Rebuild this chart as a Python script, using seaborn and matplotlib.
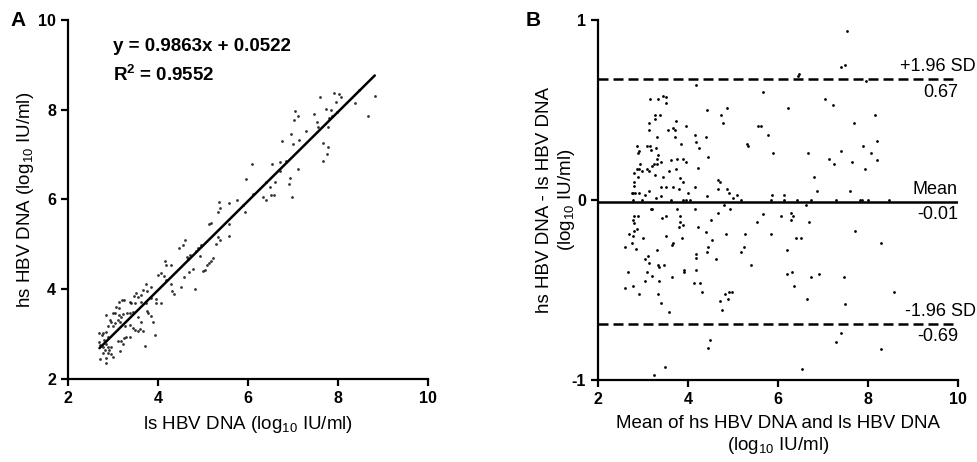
import matplotlib
matplotlib.use("Agg")
import matplotlib.pyplot as plt
import seaborn as sns
import pandas as pd

# --- DATA ---
# panel A: ls HBV DNA (x) vs hs HBV DNA (y), log10 IU/ml
ls_dna = [
    4.00, 4.07, 4.13, 4.30, 4.31, 4.36, 4.52, 4.57, 4.69, 4.83, 4.19, 3.74, 3.67, 3.76, 3.85,
    3.52, 3.63, 3.46, 3.56, 3.37, 3.41, 3.50, 3.63, 3.74, 3.85, 3.95, 3.96, 4.07, 3.13, 3.21,
    3.24, 3.07, 3.13, 3.00, 3.04, 2.85, 3.13, 3.18, 3.22, 3.32, 3.38, 3.45, 3.56, 3.76, 3.79,
    3.85, 3.63, 3.89, 2.93, 2.96, 3.04, 3.11, 3.16, 2.89, 3.00, 3.26, 3.37, 3.44, 3.48, 3.56,
    3.59, 3.67, 3.94, 2.78, 2.70, 2.75, 2.85, 2.89, 3.11, 3.18, 3.24, 3.30, 3.37, 3.22, 2.70,
    2.72, 2.78, 2.81, 2.85, 2.89, 2.95, 2.83, 2.92, 2.78, 2.90, 2.95, 3.15, 3.72, 2.72, 2.85,
    3.00, 2.85,
    5.36, 5.59, 5.76, 5.34, 5.38, 5.14, 5.18, 5.59, 5.34, 5.38, 5.58, 5.30, 4.60, 4.55, 4.47,
    4.96, 4.90, 4.84, 4.71, 4.64, 4.67, 4.93, 5.23, 5.19, 5.14, 5.08, 5.04, 5.01, 4.79, 4.16,
    4.19, 4.30,
    7.61, 7.91, 8.03, 8.08, 7.96, 8.82, 8.47, 8.39, 8.67, 7.73, 7.84, 7.99, 7.81, 7.86, 7.79,
    7.47, 7.53, 7.56, 7.05, 7.12, 7.03, 7.28, 6.96, 6.75, 7.01, 7.14, 7.67, 7.77, 7.76, 7.66,
    6.10, 6.53, 6.72, 6.84, 6.71, 7.11, 5.96, 6.41, 6.60, 6.50, 6.93, 6.91, 6.12, 6.33, 6.40,
    6.51, 6.59, 6.99, 5.90, 5.93,
]
hs_dna = [
    4.32, 4.36, 4.30, 4.12, 3.97, 3.89, 4.04, 4.28, 4.39, 4.00, 4.21, 4.12, 3.98, 3.97, 4.04,
    3.92, 3.87, 3.85, 3.82, 3.72, 3.69, 3.69, 3.72, 3.70, 3.80, 3.78, 3.70, 3.69, 3.71, 3.75,
    3.76, 3.60, 3.58, 3.48, 3.46, 3.43, 3.43, 3.39, 3.44, 3.48, 3.46, 3.49, 3.39, 3.52, 3.48,
    3.40, 3.26, 3.26, 3.31, 3.28, 3.24, 3.31, 3.26, 3.18, 3.17, 3.17, 3.20, 3.13, 3.09, 3.07,
    3.11, 3.08, 2.99, 3.03, 3.02, 2.98, 3.05, 2.94, 2.85, 2.85, 2.91, 2.94, 2.94, 2.79, 2.83,
    2.76, 2.72, 2.87, 2.79, 2.72, 2.71, 2.65, 2.65, 2.57, 2.59, 2.55, 2.62, 2.74, 2.44, 2.46,
    2.50, 2.35,
    5.94, 5.93, 5.99, 5.73, 5.80, 5.45, 5.47, 5.45, 5.16, 5.10, 5.19, 5.01, 5.10, 4.98, 4.93,
    4.99, 4.91, 4.86, 4.76, 4.71, 4.67, 4.73, 4.70, 4.64, 4.58, 4.54, 4.43, 4.41, 4.44, 4.64,
    4.54, 4.54,
    8.28, 8.37, 8.35, 8.29, 8.18, 8.31, 8.44, 8.14, 7.85, 8.02, 7.99, 7.96, 7.81, 7.86, 7.62,
    7.90, 7.72, 7.62, 7.98, 7.86, 7.77, 7.53, 7.47, 7.30, 7.23, 7.33, 7.25, 7.18, 7.01, 6.86,
    6.79, 6.78, 6.84, 6.86, 6.64, 6.69, 6.46, 6.40, 6.40, 6.27, 6.49, 6.34, 6.12, 6.05, 5.99,
    6.10, 6.10, 6.05, 5.88, 5.73,
]
fit_text = "y = 0.9863x + 0.0522"
r2_text = "R$^2$ = 0.9552"

# panel B: Bland-Altman, mean of both vs difference (hs - ls)
mean_dna = [
    4.17, 3.16, 3.33, 3.44, 3.50, 3.51, 4.42, 3.27, 3.37, 3.26, 3.14, 3.13, 3.73, 3.66, 3.70,
    3.56, 3.95, 3.30, 3.72, 4.16, 4.39, 4.18, 3.84, 4.25, 2.87, 2.90, 2.88, 3.08, 3.15, 3.18,
    3.28, 3.33, 3.30, 4.44, 2.93, 2.86, 2.90, 2.98, 2.81, 2.89, 3.09, 3.13, 3.20, 3.24, 3.31,
    3.40, 3.63, 3.76, 3.89, 3.96, 3.73, 3.57, 3.27, 3.44, 4.22, 3.82, 3.88, 2.79, 2.81, 2.76,
    2.78, 2.83, 2.90, 3.05, 3.14, 3.41, 3.50, 3.66, 3.79, 4.00, 4.16, 3.39, 3.29, 2.78, 2.98,
    3.63, 3.89, 3.96, 4.04, 4.43,
    3.17, 3.20, 3.75, 4.16, 2.81, 2.89, 2.78, 2.79, 3.42, 3.52, 3.82, 3.83, 4.50, 3.88, 3.81,
    4.22, 2.86, 2.81, 2.69, 2.78, 3.01, 3.52, 3.87, 4.40, 4.53, 3.67, 3.64, 2.61, 2.75, 2.84,
    4.44, 4.43, 3.30, 3.11, 3.04, 4.18, 4.18, 3.13, 3.33, 3.36, 3.47, 2.67, 3.09, 3.19, 3.64,
    3.90, 3.92, 4.17, 3.04, 3.36, 4.13, 4.27, 2.61, 2.78, 2.90, 3.34, 4.30, 3.40, 3.58, 4.49,
    4.44, 3.49, 3.24,
    7.53, 7.41, 7.49, 6.47, 6.45, 7.95, 5.67, 4.87, 4.73, 4.78, 6.22, 7.04, 7.23, 8.15, 7.70,
    5.56, 5.63, 5.78, 8.21, 5.30, 5.34, 5.89, 6.67, 7.41, 7.88, 8.07, 7.13, 7.24, 7.64, 8.20,
    7.94, 6.79, 4.66, 4.71, 4.66, 4.86, 4.91, 4.99, 5.09, 5.18, 5.87, 6.13, 5.84, 6.13, 6.42,
    6.73, 6.87, 7.30, 7.60, 7.82, 7.86, 7.99, 8.47,
    4.79, 4.93, 4.67, 6.63, 5.67, 5.54, 6.07, 6.29, 6.33, 6.30, 6.69, 4.85, 5.27, 5.84, 6.39,
    6.52, 7.72, 5.25, 5.18, 6.19, 8.28, 4.62, 5.40, 6.21, 6.32, 6.74, 6.92, 7.47, 6.36, 4.82,
    4.91, 4.97, 4.72, 4.88, 4.75, 6.64, 7.48, 8.58, 7.41, 7.28, 8.28, 6.53,
]
diff_dna = [
    0.64, 0.56, 0.56, 0.58, 0.57, 0.54, 0.50, 0.47, 0.47, 0.45, 0.43, 0.39, 0.44, 0.40, 0.39,
    0.39, 0.41, 0.35, 0.35, 0.36, 0.35, 0.32, 0.31, 0.29, 0.30, 0.27, 0.26, 0.30, 0.30, 0.28,
    0.29, 0.25, 0.23, 0.24, 0.20, 0.17, 0.17, 0.16, 0.15, 0.13, 0.17, 0.16, 0.19, 0.20, 0.20,
    0.21, 0.22, 0.23, 0.23, 0.21, 0.17, 0.16, 0.14, 0.13, 0.18, 0.12, 0.10, 0.10, 0.08, 0.04,
    0.04, 0.04, 0.04, 0.03, 0.05, 0.07, 0.07, 0.07, 0.06, 0.04, 0.07, 0.02, 0.01, 0.00, 0.00,
    0.00, 0.00, 0.00, 0.00, 0.02,
    -0.05, -0.05, -0.05, -0.05, -0.09, -0.09, -0.11, -0.13, -0.10, -0.09, -0.09, -0.12, -0.11,
    -0.14, -0.15, -0.15, -0.16, -0.17, -0.19, -0.20, -0.21, -0.20, -0.21, -0.18, -0.22, -0.24,
    -0.25, -0.26, -0.24, -0.27, -0.26, -0.29, -0.28, -0.31, -0.33, -0.30, -0.32, -0.35, -0.36,
    -0.37, -0.36, -0.40, -0.40, -0.42, -0.43, -0.39, -0.40, -0.39, -0.45, -0.45, -0.46, -0.46,
    -0.49, -0.48, -0.52, -0.52, -0.51, -0.57, -0.62, -0.78, -0.82, -0.93, -0.97,
    0.94, 0.74, 0.75, 0.70, 0.69, 0.66, 0.60, 0.51, 0.47, 0.43, 0.51, 0.56, 0.53, 0.47, 0.43,
    0.41, 0.41, 0.36, 0.33, 0.31, 0.30, 0.26, 0.26, 0.27, 0.30, 0.26, 0.23, 0.20, 0.21, 0.22,
    0.17, 0.13, 0.11, 0.10, 0.06, 0.06, 0.04, 0.01, 0.03, 0.00, 0.03, 0.03, 0.00, 0.00, 0.00,
    0.00, 0.05, 0.00, 0.05, 0.00, 0.00, 0.00, 0.00,
    -0.03, -0.05, -0.07, -0.03, -0.08, -0.12, -0.09, -0.07, -0.09, -0.11, -0.12, -0.19, -0.19,
    -0.19, -0.21, -0.21, -0.17, -0.26, -0.29, -0.28, -0.24, -0.33, -0.36, -0.41, -0.40, -0.43,
    -0.41, -0.43, -0.48, -0.52, -0.51, -0.51, -0.56, -0.55, -0.61, -0.55, -0.58, -0.51, -0.74,
    -0.79, -0.83, -0.94,
]
bias = -0.01
upper_loa = 0.67
lower_loa = -0.69

# --- STYLE ---
sns.set_style("ticks")
plt.rcParams['font.family'] = ['Liberation Sans', 'DejaVu Sans']
plt.rcParams['mathtext.default'] = 'regular'
plt.rcParams['axes.unicode_minus'] = False
for key in ['text.color', 'axes.labelcolor', 'axes.edgecolor', 'xtick.color', 'ytick.color']:
    plt.rcParams[key] = 'black'
lw = 1.6

fig = plt.figure(figsize=(9.78, 4.62), dpi=100)
ax_a = fig.add_axes([0.0695, 0.1797, 0.368, 0.777])
ax_b = fig.add_axes([0.6115, 0.1775, 0.368, 0.779])


def style_axis(ax):
    sns.despine(ax=ax)
    for side in ['left', 'bottom']:
        ax.spines[side].set_linewidth(lw)
    ax.tick_params(width=lw, length=5, labelsize=11.5, direction='out')
    for lab in ax.get_xticklabels() + ax.get_yticklabels():
        lab.set_fontweight('bold')


# --- PANEL A: correlation ---
df_a = pd.DataFrame({'ls': ls_dna, 'hs': hs_dna})
sns.regplot(data=df_a, x='ls', y='hs', ax=ax_a, ci=None, color='black',
            scatter_kws=dict(s=4, linewidths=0), line_kws=dict(lw=1.8))
ax_a.set_xlim(2, 10)
ax_a.set_ylim(2, 10)
ax_a.set_xticks([2, 4, 6, 8, 10])
ax_a.set_yticks([2, 4, 6, 8, 10])
ax_a.set_xlabel("ls HBV DNA (log$_{10}$ IU/ml)", fontsize=13.5, labelpad=6)
ax_a.set_ylabel("hs HBV DNA (log$_{10}$ IU/ml)", fontsize=13.5, labelpad=2)
style_axis(ax_a)
ax_a.text(3.0, 9.4, fit_text, fontsize=13.5, fontweight='bold', va='center')
ax_a.text(3.0, 8.78, r2_text, fontsize=13.5, fontweight='bold', va='center')
ax_a.text(-0.16, 1.0, "A", transform=ax_a.transAxes, fontsize=15,
          fontweight='bold', va='center')

# --- PANEL B: Bland-Altman ---
df_b = pd.DataFrame({'mean': mean_dna, 'diff': diff_dna})
sns.scatterplot(data=df_b, x='mean', y='diff', ax=ax_b, color='black',
                s=4, linewidth=0)
ax_b.axhline(bias, color='black', lw=1.8)
ax_b.axhline(upper_loa, color='black', lw=1.8, ls=(0, (4, 2)))
ax_b.axhline(lower_loa, color='black', lw=1.8, ls=(0, (4, 2)))
ax_b.set_xlim(2, 10)
ax_b.set_ylim(-1, 1)
ax_b.set_xticks([2, 4, 6, 8, 10])
ax_b.set_yticks([-1, 0, 1])
ax_b.set_xlabel("Mean of hs HBV DNA and ls HBV DNA\n(log$_{10}$ IU/ml)",
                fontsize=13.5, labelpad=6)
ax_b.set_ylabel("hs HBV DNA - ls HBV DNA\n(log$_{10}$ IU/ml)", fontsize=13.5,
                labelpad=-4)
style_axis(ax_b)

labels = [(upper_loa, "+1.96 SD", f"{upper_loa:.2f}"),
          (bias, "Mean", f"{bias:.2f}"),
          (lower_loa, "-1.96 SD", f"{lower_loa:.2f}")]
for yv, top, bottom in labels:
    xr = 10.4 if "SD" in top else 10.0
    ax_b.annotate(top, (xr, yv), xytext=(0, 3), textcoords='offset points',
                  ha='right', va='bottom', fontsize=13, annotation_clip=False)
    ax_b.annotate(bottom, (10.0, yv), xytext=(0, -3), textcoords='offset points',
                  ha='right', va='top', fontsize=13, annotation_clip=False)
ax_b.text(-0.2, 1.0, "B", transform=ax_b.transAxes, fontsize=15,
          fontweight='bold', va='center')

fig.savefig("out.png", dpi=100)
